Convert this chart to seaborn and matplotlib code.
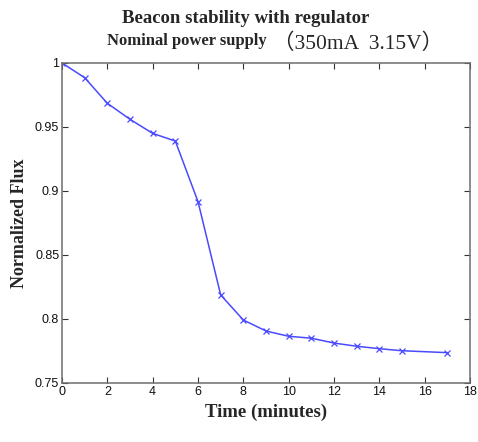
import matplotlib
matplotlib.use("Agg")
import matplotlib.pyplot as plt
import pandas as pd
import seaborn as sns

time_min = [0, 1, 2, 3, 4, 5, 6, 7, 8, 9, 10, 11, 12, 13, 14, 15, 17]
flux = [1.0, 0.9885, 0.9685, 0.956, 0.945, 0.939, 0.8917, 0.8188, 0.7992,
        0.7906, 0.7865, 0.785, 0.7812, 0.7787, 0.7768, 0.7752, 0.7737]
x_ticks = [0, 2, 4, 6, 8, 10, 12, 14, 16, 18]
y_ticks = [0.75, 0.8, 0.85, 0.9, 0.95, 1.0]
y_tick_labels = ["0.75", "0.8", "0.85", "0.9", "0.95", "1"]

sns.set_theme(style="white")
plt.rcParams["font.family"] = ["Liberation Sans", "DejaVu Sans"]

df = pd.DataFrame({"time": time_min, "flux": flux})

fig = plt.figure(figsize=(4.78, 4.42), dpi=100)
ax = fig.add_axes([0.1297, 0.1335, 0.8536, 0.724])
sns.lineplot(data=df, x="time", y="flux", ax=ax, color="#4a4aff", linewidth=1.1,
             marker="x", markersize=4, markeredgewidth=0.9, markeredgecolor="#4a4aff")

ax.set_xlim(0, 18)
ax.set_ylim(0.75, 1.0)
ax.set_xticks(x_ticks)
ax.set_xticklabels([str(t) for t in x_ticks])
ax.set_yticks(y_ticks)
ax.set_yticklabels(y_tick_labels)
ax.tick_params(direction="in", length=4, width=0.8, color="#333333",
               top=True, right=True, bottom=True, left=True,
               labelsize=9, labelcolor="#111111", pad=2)
for sp in ax.spines.values():
    sp.set_color("#6e6e6e")
    sp.set_linewidth(1.1)

serif = ["Liberation Serif", "DejaVu Serif"]
ax.set_xlabel("Time (minutes)", family=serif, fontweight="bold", fontsize=13.5, labelpad=4)
ax.set_ylabel("Normalized Flux", family=serif, fontweight="bold", fontsize=13, labelpad=5)

fig.text(0.515, 0.958, "Beacon stability with regulator", family=serif,
         fontweight="bold", fontsize=13.5, ha="center", va="center")
fig.text(0.559, 0.908, "Nominal power supply", family=serif,
         fontweight="bold", fontsize=12, ha="right", va="center")
fig.text(0.572, 0.902, "（350mA  3.15V）", family=["Liberation Serif", "Noto Sans CJK SC"],
         fontsize=15.5, ha="left", va="center")

fig.savefig("out.png", dpi=100)
